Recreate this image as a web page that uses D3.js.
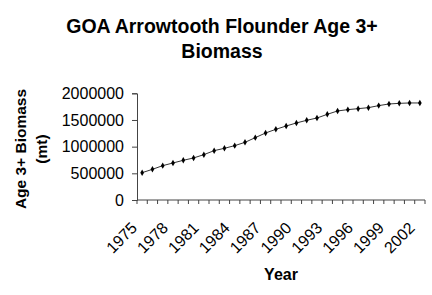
<!DOCTYPE html>
<html><head><meta charset="utf-8">
<script src="https://cdn.jsdelivr.net/npm/d3@7"></script>
<style>body{margin:0;background:#fff}svg{display:block}text{font-family:"Liberation Sans",Arial,sans-serif}</style>
</head><body><svg id="c" width="432" height="295"></svg>
<script>
const years = [1975,1976,1977,1978,1979,1980,1981,1982,1983,1984,1985,1986,1987,1988,1989,1990,1991,1992,1993,1994,1995,1996,1997,1998,1999,2000,2001,2002];
const biomass = [512000,575000,644000,694000,744000,788000,850000,925000,969000,1019000,1081000,1169000,1256000,1325000,1387000,1444000,1494000,1537000,1606000,1669000,1694000,1712000,1731000,1769000,1800000,1812000,1819000,1819000];
const yTicks = [0,500000,1000000,1500000,2000000];
const xLabelYears = [1975,1978,1981,1984,1987,1990,1993,1996,1999,2002];
const titleLines = ["GOA Arrowtooth Flounder Age 3+","Biomass"];
const yTitleLines = ["Age 3+ Biomass","(mt)"];
const xTitle = "Year";

const svg = d3.select("#c");
const L=137, R=425, T=93.3, B=200;
const x = d3.scaleBand().domain(years).range([L,R]);
const y = d3.scaleLinear().domain([0,2000000]).range([B,T]);
const axisCol = "#444";

// title
svg.append("g").selectAll("text").data(titleLines).join("text")
  .attr("x",222).attr("y",(d,i)=>33+i*25).attr("text-anchor","middle")
  .attr("font-weight","bold").attr("font-size",19.5).text(d=>d);

// y axis
const ya = svg.append("g").attr("transform",`translate(${L},0)`)
  .call(d3.axisLeft(y).tickValues(yTicks).tickSize(5).tickPadding(8).tickFormat(d3.format("d")));
ya.select(".domain").attr("stroke",axisCol);
ya.selectAll(".tick line").attr("stroke",axisCol);
ya.selectAll("text").attr("font-size",16).attr("fill","#000").attr("font-family","Liberation Sans, Arial, sans-serif");

// x axis: ticks at category boundaries
const xa = svg.append("g").attr("transform",`translate(0,${B})`);
xa.append("line").attr("x1",L).attr("x2",R).attr("stroke",axisCol);
const bounds = years.map(d=>x(d)).concat([x(years[years.length-1])+x.bandwidth()]);
xa.selectAll("line.t").data(bounds).join("line").attr("class","t")
  .attr("x1",d=>d).attr("x2",d=>d).attr("y1",0).attr("y2",4).attr("stroke",axisCol);
xa.selectAll("text").data(xLabelYears).join("text")
  .attr("transform",d=>`translate(${x(d)+x.bandwidth()/2-4},29) rotate(-45)`)
  .attr("text-anchor","end").attr("font-size",16).text(d=>d);

// axis titles
svg.append("g").attr("transform","translate(26,149) rotate(-90)")
  .selectAll("text").data(yTitleLines).join("text")
  .attr("x",0).attr("y",(d,i)=>i*21).attr("text-anchor","middle")
  .attr("font-weight","bold").attr("font-size",15.5).text(d=>d);
svg.append("text").attr("x",281).attr("y",280).attr("text-anchor","middle")
  .attr("font-weight","bold").attr("font-size",16).text(xTitle);

// line + markers
const cx = d=>x(d)+x.bandwidth()/2;
svg.append("path").attr("fill","none").attr("stroke","#333").attr("stroke-width",1)
  .attr("d",d3.line().x((d,i)=>cx(years[i])).y(d=>y(d))(biomass));
svg.selectAll("path.m").data(biomass).join("path").attr("class","m")
  .attr("transform",(d,i)=>`translate(${cx(years[i])},${y(d)})`)
  .attr("d",d3.symbol(d3.symbolDiamond,12)).attr("fill","#000");
</script></body></html>
